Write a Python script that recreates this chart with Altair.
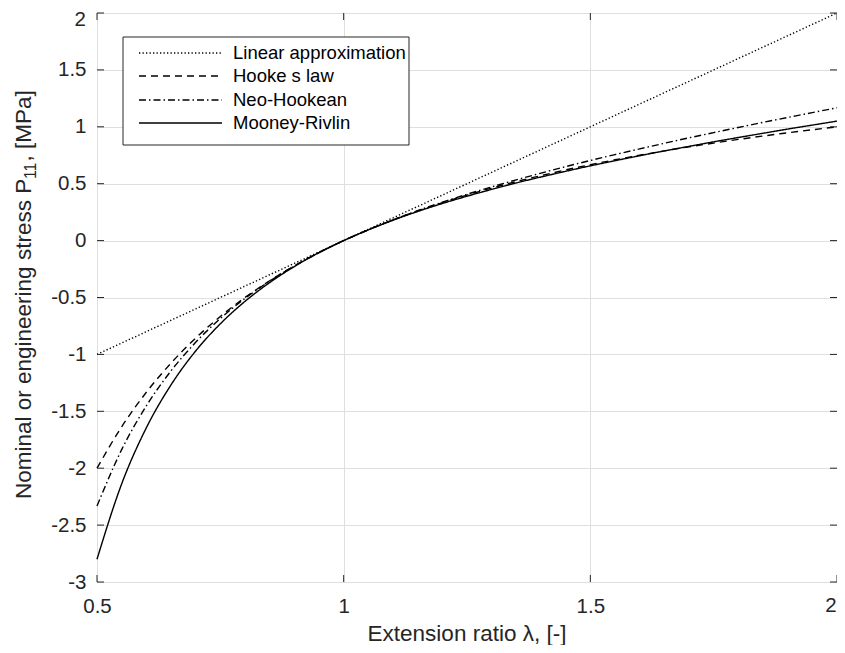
import altair as alt
import pandas as pd

# ---- data ----
lam = [0.5, 0.55, 0.6, 0.65, 0.7, 0.75, 0.8, 0.85, 0.9, 0.95, 1.0,
       1.05, 1.1, 1.15, 1.2, 1.25, 1.3, 1.35, 1.4, 1.45, 1.5,
       1.55, 1.6, 1.65, 1.7, 1.75, 1.8, 1.85, 1.9, 1.95, 2.0]
linear = [-1.0, -0.9, -0.8, -0.7, -0.6, -0.5, -0.4, -0.3, -0.2, -0.1, 0.0,
          0.1, 0.2, 0.3, 0.4, 0.5, 0.6, 0.7, 0.8, 0.9, 1.0,
          1.1, 1.2, 1.3, 1.4, 1.5, 1.6, 1.7, 1.8, 1.9, 2.0]
hooke = [-2.0, -1.636, -1.333, -1.077, -0.857, -0.667, -0.5, -0.353, -0.222, -0.105, 0.0,
         0.095, 0.182, 0.261, 0.333, 0.4, 0.462, 0.519, 0.571, 0.621, 0.667,
         0.71, 0.75, 0.788, 0.824, 0.857, 0.889, 0.919, 0.947, 0.974, 1.0]
neo = [-2.333, -1.837, -1.452, -1.145, -0.894, -0.685, -0.508, -0.356, -0.223, -0.105, 0.0,
       0.095, 0.182, 0.263, 0.337, 0.407, 0.472, 0.534, 0.593, 0.65, 0.704,
       0.756, 0.806, 0.855, 0.903, 0.949, 0.994, 1.039, 1.082, 1.125, 1.167]
mooney = [-2.8, -2.138, -1.645, -1.268, -0.97, -0.731, -0.534, -0.369, -0.228, -0.106, 0.0,
          0.094, 0.179, 0.256, 0.326, 0.39, 0.45, 0.507, 0.559, 0.609, 0.657,
          0.702, 0.746, 0.788, 0.828, 0.868, 0.906, 0.943, 0.98, 1.015, 1.05]

models = ["Linear approximation", "Hooke s law", "Neo-Hookean", "Mooney-Rivlin"]
series = [linear, hooke, neo, mooney]
dashes = [[1.3, 2.2], [7, 5], [7, 3, 1.5, 3], [1, 0]]

x_ticks = [0.5, 1, 1.5, 2]
y_ticks = [-3, -2.5, -2, -1.5, -1, -0.5, 0, 0.5, 1, 1.5, 2]

x_title = "Extension ratio λ, [-]"
y_title_main = "Nominal or engineering stress P"
y_title_sub = "11"
y_title_end = ", [MPa]"

# ---- layout ----
W, H = 740, 569
FONT = "Liberation Sans"
INK = "#262626"
LFS = 20.5

rows = []
for m, s in zip(models, series):
    for l, v in zip(lam, s):
        rows.append({"lam": l, "P": v, "model": m})
df = pd.DataFrame(rows)
one = pd.DataFrame({"a": [0]})

xs = alt.Scale(domain=[0.5, 2], nice=False, zero=False)
ys = alt.Scale(domain=[-3, 2], nice=False, zero=False)

xaxis = alt.Axis(values=x_ticks, labelExpr="datum.value == 2 ? '' : '' + datum.value",
                 title=None, ticks=False, domain=False, grid=True, gridColor="#dfdfdf",
                 gridWidth=1, labelFont=FONT, labelFontSize=LFS, labelColor=INK,
                 labelPadding=14, labelFlush=False)
yaxis = alt.Axis(values=y_ticks, labelExpr="datum.value == 2 ? '' : '' + datum.value",
                 title=None, ticks=False, domain=False, grid=True, gridColor="#dfdfdf",
                 gridWidth=1, labelFont=FONT, labelFontSize=LFS, labelColor=INK,
                 labelPadding=11, labelFlush=False)

base = alt.Chart(df)
layers = []
for m, d in zip(models, dashes):
    layers.append(
        base.transform_filter(alt.datum.model == m)
        .mark_line(color="black", strokeWidth=1.4, strokeDash=d, interpolate="monotone")
        .encode(
            x=alt.X("lam:Q", scale=xs, axis=xaxis),
            y=alt.Y("P:Q", scale=ys, axis=yaxis),
        )
    )

ydf = pd.DataFrame({"v": y_ticks})
xdf = pd.DataFrame({"v": x_ticks})
tick_layers = [
    alt.Chart(ydf).mark_rule(color=INK, strokeWidth=1).encode(
        y=alt.Y("v:Q", scale=ys, axis=yaxis), x=alt.value(0), x2=alt.value(7)),
    alt.Chart(ydf).mark_rule(color=INK, strokeWidth=1).encode(
        y=alt.Y("v:Q", scale=ys, axis=yaxis), x=alt.value(W - 7), x2=alt.value(W)),
    alt.Chart(xdf).mark_rule(color=INK, strokeWidth=1).encode(
        x=alt.X("v:Q", scale=xs, axis=xaxis), y=alt.value(H - 7), y2=alt.value(H)),
    alt.Chart(xdf).mark_rule(color=INK, strokeWidth=1).encode(
        x=alt.X("v:Q", scale=xs, axis=xaxis), y=alt.value(0), y2=alt.value(7)),
]

# end labels nudged inwards so that they are not cut at the page edge
ytop = pd.DataFrame({"v": [y_ticks[-1]]})
xend = pd.DataFrame({"v": [x_ticks[-1]]})
edge_labels = [
    alt.Chart(ytop).mark_text(font=FONT, fontSize=LFS, color=INK, align="right",
                              baseline="middle", dx=-11, dy=7).encode(
        y=alt.Y("v:Q", scale=ys, axis=yaxis), x=alt.value(0), text=alt.Text("v:Q")),
    alt.Chart(xend).mark_text(font=FONT, fontSize=LFS, color=INK, align="center",
                              baseline="top", dx=-6).encode(
        x=alt.X("v:Q", scale=xs, axis=xaxis), y=alt.value(H + 14), text=alt.Text("v:Q")),
]

# legend
leg = [alt.Chart(one).mark_rect(fill="white", stroke=INK, strokeWidth=1).encode(
    x=alt.value(26), x2=alt.value(312), y=alt.value(24), y2=alt.value(132))]
row_y = [40, 63, 87, 110]
for m, d, ry in zip(models, dashes, row_y):
    leg.append(alt.Chart(one).mark_rule(color="black", strokeWidth=1.4, strokeDash=d).encode(
        x=alt.value(42), x2=alt.value(125), y=alt.value(ry)))
    leg.append(alt.Chart(one).mark_text(font=FONT, fontSize=18.5, color="black",
                                        align="left", baseline="middle").encode(
        x=alt.value(136), y=alt.value(ry), text=alt.value(m)))

# axis titles
titles = [
    alt.Chart(one).mark_text(font=FONT, fontSize=22.5, color=INK, align="center",
                             baseline="alphabetic").encode(
        x=alt.value(W / 2), y=alt.value(628), text=alt.value(x_title)),
    alt.Chart(one).mark_text(font=FONT, fontSize=22.5, color=INK, align="left",
                             baseline="alphabetic", angle=270).encode(
        x=alt.value(-66), y=alt.value(486), text=alt.value(y_title_main)),
    alt.Chart(one).mark_text(font=FONT, fontSize=15.75, color=INK, align="left",
                             baseline="alphabetic", angle=270).encode(
        x=alt.value(-61), y=alt.value(166), text=alt.value(y_title_sub)),
    alt.Chart(one).mark_text(font=FONT, fontSize=22.5, color=INK, align="left",
                             baseline="alphabetic", angle=270).encode(
        x=alt.value(-66), y=alt.value(148.5), text=alt.value(y_title_end)),
]

chart = alt.layer(*layers, *tick_layers, *edge_labels, *leg, *titles).properties(
    width=W, height=H,
    autosize=alt.AutoSizeParams(type="none"),
    padding={"left": 89, "top": 5, "right": 0, "bottom": 63},
    background="white",
).configure_view(stroke=INK, strokeWidth=1)

chart.save("out.html", embed_options={"renderer": "svg", "actions": False})
